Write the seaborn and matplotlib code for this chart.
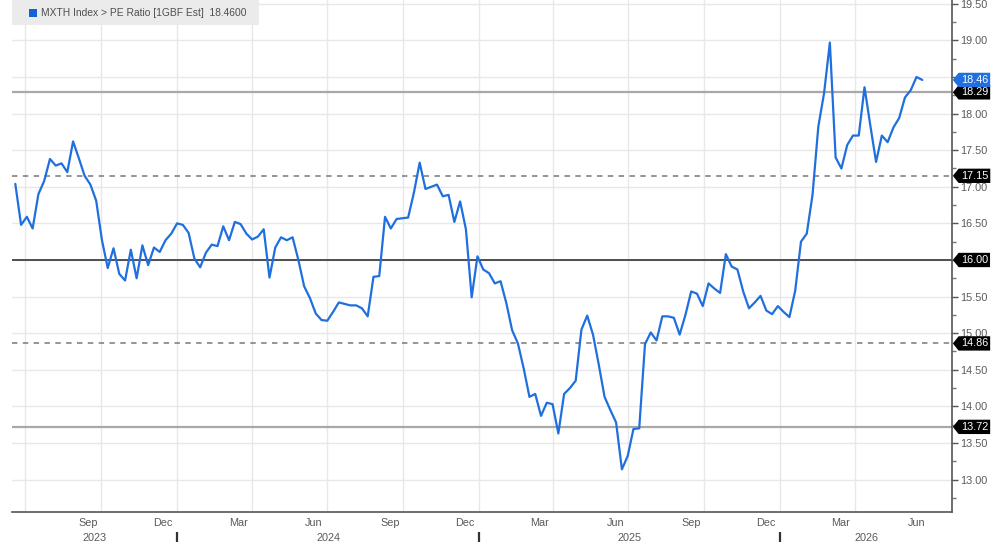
import numpy as np
import pandas as pd
import matplotlib
matplotlib.use("Agg")
import matplotlib.pyplot as plt
from matplotlib.path import Path
from matplotlib.patches import Rectangle
import seaborn as sns

# ---------------- data ----------------
start_date = "2023-06-19"
pe_ratio = [
    17.04, 16.48, 16.59, 16.43, 16.90, 17.08, 17.38, 17.29, 17.32, 17.20,
    17.62, 17.39, 17.15, 17.03, 16.81, 16.27, 15.89, 16.16, 15.81, 15.72,
    16.14, 15.75, 16.20, 15.93, 16.17, 16.11, 16.27, 16.36, 16.50, 16.48,
    16.37, 16.02, 15.90, 16.10, 16.21, 16.19, 16.46, 16.27, 16.52, 16.49,
    16.36, 16.28, 16.32, 16.42, 15.76, 16.17, 16.31, 16.27, 16.31, 16.00,
    15.64, 15.48, 15.27, 15.18, 15.17, 15.29, 15.42, 15.40, 15.38, 15.38,
    15.34, 15.23, 15.77, 15.78, 16.59, 16.43, 16.56, 16.57, 16.58, 16.92,
    17.33, 16.97, 17.00, 17.03, 16.87, 16.89, 16.52, 16.80, 16.42, 15.49,
    16.05, 15.87, 15.82, 15.68, 15.71, 15.41, 15.04, 14.86, 14.52, 14.13,
    14.17, 13.87, 14.05, 14.03, 13.63, 14.17, 14.25, 14.35, 15.05, 15.24,
    14.98, 14.57, 14.13, 13.95, 13.78, 13.14, 13.32, 13.69, 13.70, 14.85,
    15.01, 14.90, 15.23, 15.23, 15.21, 14.98, 15.25, 15.57, 15.54, 15.37,
    15.68, 15.61, 15.55, 16.08, 15.91, 15.87, 15.57, 15.34, 15.42, 15.51,
    15.31, 15.26, 15.37, 15.29, 15.22, 15.58, 16.25, 16.36, 16.89, 17.82,
    18.28, 18.97, 17.40, 17.25, 17.57, 17.70, 17.70, 18.36, 17.84, 17.34,
    17.70, 17.61, 17.81, 17.94, 18.22, 18.32, 18.50, 18.46,
]
last_value = 18.46
series_label = "MXTH Index > PE Ratio [1GBF Est]"
mean_level = 16.00
band_solid = [18.29, 13.72]      # +/- 2 sd
band_dashed = [17.15, 14.86]     # +/- 1 sd
y_ticks = [13.0, 13.5, 14.0, 14.5, 15.0, 15.5, 16.0, 16.5, 17.0, 17.5, 18.0, 18.5, 19.0, 19.5]
x_start, x_end = "2023-06-15", "2026-07-28"
month_label_months = pd.date_range("2023-09-01", "2026-06-01", freq="3MS")
year_labels = ["2023", "2024", "2025", "2026"]

# ---------------- style ----------------
sns.set_style("white")
plt.rcParams["font.family"] = ["Liberation Sans", "DejaVu Sans"]

LINE_BLUE = "#1f70de"
TXT = "#5a5a5a"
GRID = "#e8e8e8"
FS = 7.8

fig = plt.figure(figsize=(9.93, 5.48), dpi=100)
W, H = 993, 548
ax = fig.add_axes([12 / W, 1 - 512 / H, (952 - 12) / W, 512 / H])

dates = pd.date_range(start_date, periods=len(pe_ratio), freq="7D")
df = pd.DataFrame({"date": dates, "pe": pe_ratio})

x0 = pd.Timestamp(x_start)
x1 = pd.Timestamp(x_end)

# gridlines
for yt in y_ticks:
    ax.axhline(yt, color=GRID, lw=1.0, zorder=0)
quarters = list(pd.date_range("2023-07-01", "2026-06-01", freq="QS-JAN"))
for q in quarters:
    ax.axvline(q, color=GRID, lw=1.0, zorder=0)

# reference levels
ax.axhline(mean_level, color="#333333", lw=1.2, zorder=1)
for lv in band_solid:
    ax.axhline(lv, color="#a8a8a8", lw=1.6, zorder=1)
for lv in band_dashed:
    ax.axhline(lv, color="#8c8c8c", lw=1.3, ls=(0, (3, 3)), zorder=1)

sns.lineplot(data=df, x="date", y="pe", ax=ax, color=LINE_BLUE, linewidth=1.6, zorder=3)

ax.set_xlim(x0, x1)
ax.set_ylim(12.557, 19.552)
ax.set_xlabel("")
ax.set_ylabel("")

# spines
for s in ["left", "top"]:
    ax.spines[s].set_visible(False)
for s in ["right", "bottom"]:
    ax.spines[s].set_color("#555555")
    ax.spines[s].set_linewidth(1.2)

# y axis on the right
ax.yaxis.tick_right()
ax.set_yticks(y_ticks)
ax.set_yticklabels([f"{v:.2f}" for v in y_ticks])
ax.set_yticks(np.arange(12.75, 19.6, 0.5), minor=True)
ax.tick_params(axis="y", which="major", direction="out", length=4, width=1,
               color="#555555", labelsize=FS, labelcolor=TXT, pad=2, left=False)
ax.tick_params(axis="y", which="minor", direction="out", length=3, width=1,
               color="#777777", left=False)

# x axis: monthly ticks, labels mid-month
month_ticks = pd.date_range("2023-07-01", "2026-06-01", freq="MS")
ax.set_xticks(month_ticks)
ax.set_xticklabels([])
ax.tick_params(axis="x", which="major", direction="out", length=4, width=1.2,
               color="#555555")
ax.set_xticks([], minor=True)

xtrans = ax.get_xaxis_transform()
for m in month_label_months:
    ax.text(m + pd.Timedelta(days=14), -0.022, m.strftime("%b"), transform=xtrans,
            ha="center", va="center", fontsize=FS, color=TXT, clip_on=False)

year_bounds = [pd.Timestamp(f"{y}-01-01") for y in ["2024", "2025", "2026"]]
edges = [x0] + year_bounds + [x1]
for i, lab in enumerate(year_labels):
    mid = edges[i] + (edges[i + 1] - edges[i]) / 2
    ax.text(mid, -0.05, lab, transform=xtrans, ha="center", va="center",
            fontsize=FS, color=TXT, clip_on=False)
for yb in year_bounds:
    ax.plot([yb, yb], [-0.04, -0.058], transform=xtrans, color="#333333",
            lw=1.6, clip_on=False, solid_capstyle="butt")


# tag labels at the right axis
def tag_box(x0_, y0_, width, height, mutation_size):
    pad = 0.2 * mutation_size
    x0_, y0_ = x0_ - pad, y0_ - pad
    width, height = width + 2 * pad, height + 2 * pad
    tip = 0.4 * height
    verts = [(x0_ - tip, y0_ + height / 2), (x0_, y0_ + height), (x0_ + width, y0_ + height),
             (x0_ + width, y0_), (x0_, y0_), (x0_ - tip, y0_ + height / 2)]
    return Path(verts, closed=True)


ytrans = ax.get_yaxis_transform()
tags = [(band_solid[0], "black"), (band_dashed[0], "black"), (mean_level, "black"),
        (band_dashed[1], "black"), (band_solid[1], "black"), (last_value, LINE_BLUE)]
for val, col in tags:
    ax.annotate(f"{val:.2f}", xy=(1, val), xycoords=ytrans, xytext=(6.3, 0),
                textcoords="offset points", ha="left", va="center", fontsize=FS,
                color="white", annotation_clip=False, zorder=10,
                bbox=dict(boxstyle=tag_box, fc=col, ec="none"))

# legend box
fig.add_artist(Rectangle((12 / W, 1 - 25 / H), 247 / W, 25 / H, transform=fig.transFigure,
                         facecolor="#ebebeb", edgecolor="none", zorder=5))
fig.add_artist(Rectangle((29 / W, 1 - 17 / H), 8 / W, 8 / H, transform=fig.transFigure,
                         facecolor="#1560d8", edgecolor="none", zorder=6))
fig.text(41 / W, 1 - 13 / H, f"{series_label}  {last_value:.4f}", ha="left", va="center",
         fontsize=7.4, color="#505050", zorder=6)

fig.savefig("out.png", dpi=100, facecolor="white")
